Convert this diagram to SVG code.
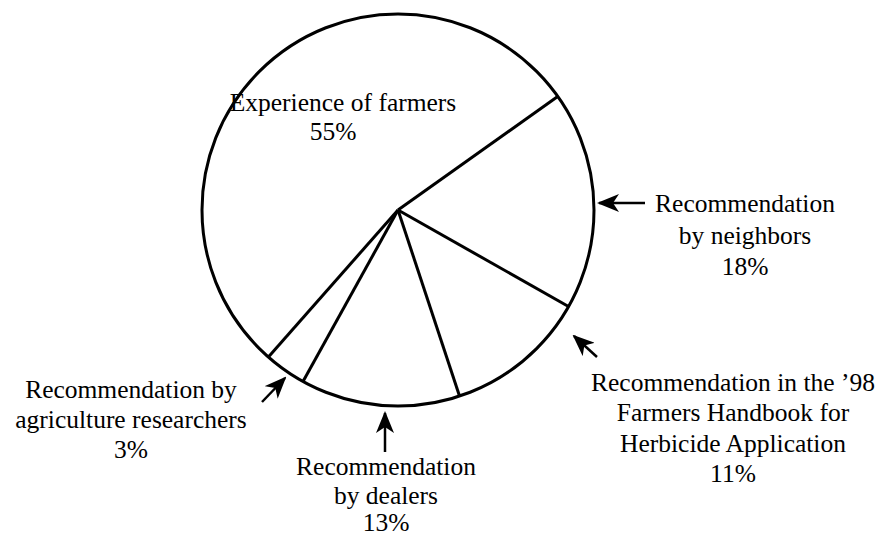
<svg xmlns="http://www.w3.org/2000/svg" width="882" height="537" viewBox="0 0 882 537">
<style>
.t{font-family:"Liberation Serif","Times New Roman",serif;font-size:25.5px;fill:#000;text-anchor:middle}
.ln{stroke:#000;stroke-width:3;fill:none}
.ar{stroke:#000;stroke-width:2.5;fill:none}
</style>
<defs>
<marker id="ah" viewBox="0 0 22 18" refX="20" refY="9" markerWidth="22" markerHeight="18" markerUnits="userSpaceOnUse" orient="auto">
<path d="M0,0 L22,9 L0,18 L6,9 Z" fill="#000"/>
</marker>
</defs>
<rect width="882" height="537" fill="#fff"/>
<g id="pie">
<circle cx="398" cy="210" r="196" class="ln"/>
<line x1="398" y1="210" x2="557.7" y2="96.5" class="ln"/>
<line x1="398" y1="210" x2="568.5" y2="306.5" class="ln"/>
<line x1="398" y1="210" x2="459.5" y2="396" class="ln"/>
<line x1="398" y1="210" x2="303" y2="381.5" class="ln"/>
<line x1="398" y1="210" x2="268.4" y2="357" class="ln"/>
</g>
<g id="connectors">
<line x1="645" y1="203" x2="599" y2="203" class="ar" marker-end="url(#ah)"/>
<line x1="597" y1="357" x2="574" y2="336" class="ar" marker-end="url(#ah)"/>
<line x1="262" y1="402" x2="285" y2="378" class="ar" marker-end="url(#ah)"/>
<line x1="385" y1="452" x2="385" y2="413" class="ar" marker-end="url(#ah)"/>
</g>
<g id="experience">
<text class="t" x="343" y="111">Experience of farmers</text>
<text class="t" x="333" y="140">55%</text>
</g>
<g id="neighbors">
<text class="t" x="745" y="212">Recommendation</text>
<text class="t" x="745" y="244">by neighbors</text>
<text class="t" x="745" y="275">18%</text>
</g>
<g id="handbook">
<text class="t" x="733" y="391">Recommendation in the ’98</text>
<text class="t" x="733" y="421">Farmers Handbook for</text>
<text class="t" x="733" y="452">Herbicide Application</text>
<text class="t" x="733" y="482">11%</text>
</g>
<g id="researchers">
<text class="t" x="131" y="398">Recommendation by</text>
<text class="t" x="131" y="428">agriculture researchers</text>
<text class="t" x="131" y="458">3%</text>
</g>
<g id="dealers">
<text class="t" x="386" y="475">Recommendation</text>
<text class="t" x="386" y="504">by dealers</text>
<text class="t" x="386" y="531">13%</text>
</g>
</svg>
